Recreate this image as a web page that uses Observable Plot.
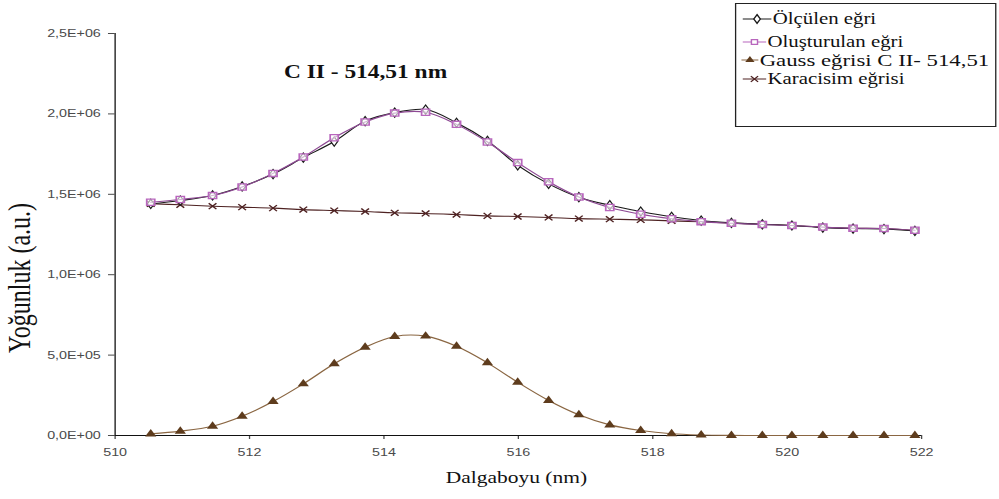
<!DOCTYPE html>
<html>
<head>
<meta charset="utf-8">
<script src="https://cdn.jsdelivr.net/npm/d3@7"></script>
<script src="https://cdn.jsdelivr.net/npm/@observablehq/plot@0.6"></script>
<style>
  html, body { margin: 0; padding: 0; background: #fff; }
  #frame { position: relative; width: 999px; height: 499px; overflow: hidden; background: #fff; }
  /* the whole figure is drawn on a narrower stage and widened horizontally */
  #stage { position: absolute; left: 0; top: 0; width: 768px; height: 499px;
           transform: scaleX(1.3008); transform-origin: 0 0; }
  #stage svg { position: absolute; left: 0; top: 0; }
  .serif { font-family: "Liberation Serif", "Times New Roman", serif; color: #111; position: absolute; white-space: nowrap; }
  #title { left: 281px; top: 62px; font-size: 18px; font-weight: bold; line-height: 20px; transform: translateX(-50%); }
  #ylab { left: 15px; top: 278px; font-size: 24px; line-height: 24px; transform: translate(-50%, -50%) rotate(-90deg); }
  #xlab { left: 397px; top: 468px; font-size: 16.5px; line-height: 20px; transform: translateX(-50%); }
  #legend { position: absolute; left: 565px; top: 3px; width: 201px; height: 124px;
            border: 1px solid #222; box-sizing: border-box; background: #fff; }
  #legend .row { position: absolute; height: 18px; display: flex; align-items: center; }
  #legend .row svg { position: static; flex: none; }
  #legend .row span { font-family: "Liberation Serif", "Times New Roman", serif; color: #111; white-space: nowrap; }
</style>
</head>
<body>
<div id="frame"><div id="stage">
  <div id="title" class="serif">C II - 514,51 nm</div>
  <div id="ylab" class="serif">Yoğunluk (a.u.)</div>
  <div id="xlab" class="serif">Dalgaboyu (nm)</div>
  <div id="legend"></div>
</div></div>
<script>
// Wavelength samples (nm)
const wavelength = [510.53, 510.97, 511.45, 511.89, 512.35, 512.80, 513.26, 513.72, 514.16, 514.62,
                    515.08, 515.54, 515.99, 516.45, 516.90, 517.36, 517.82, 518.28, 518.72, 519.17,
                    519.63, 520.07, 520.53, 520.98, 521.44, 521.90];
// Measured spectrum
const measured = [1440000, 1461000, 1493000, 1549000, 1626000, 1728000, 1828000, 1955000, 2008000, 2027000,
                  1945000, 1832000, 1680000, 1565000, 1482000, 1432000, 1393000, 1360000, 1337000, 1322000,
                  1313000, 1306000, 1293000, 1287000, 1284000, 1272000];
// Reconstructed spectrum (continuum + Gaussian)
const fitted = [1451000, 1468000, 1492000, 1545000, 1630000, 1732000, 1852000, 1950000, 2005000, 2010000,
                1935000, 1825000, 1697000, 1578000, 1483000, 1418000, 1376000, 1348000, 1330000, 1320000,
                1312000, 1306000, 1296000, 1289000, 1287000, 1276000];
// Gaussian profile of the C II 514.51 nm line
const gauss = [10000, 27000, 58000, 120000, 211000, 321000, 446000, 549000, 616000, 618000,
               555000, 452000, 331000, 218000, 129000, 66000, 31000, 10500, 3000, 600,
               100, 0, 0, 0, 0, 0];
// Blackbody continuum
const blackbody = [1441000, 1435000, 1426000, 1420000, 1414000, 1405000, 1399000, 1393000, 1385000, 1381000,
                   1374000, 1366000, 1362000, 1356000, 1349000, 1345000, 1341000, 1335000, 1329000, 1321000,
                   1314000, 1306000, 1295000, 1289000, 1287000, 1275000];

const xTicks = [510, 512, 514, 516, 518, 520, 522];
const yTicks = [0, 500000, 1000000, 1500000, 2000000, 2500000];
const yTickLabels = ["0,0E+00", "5,0E+05", "1,0E+06", "1,5E+06", "2,0E+06", "2,5E+06"];

const seriesNames = ["Ölçülen eğri", "Oluşturulan eğri", "Gauss eğrisi C II- 514,51", "Karacisim eğrisi"];

const rows = wavelength.map((w, i) => ({
  w, measured: measured[i], fitted: fitted[i], gauss: gauss[i], blackbody: blackbody[i]
}));

const C = {
  measured: "#1a1a1a",
  fittedLine: "#8e4a94",
  fittedMark: "#b866bd",
  gaussLine: "#8a6642",
  gaussMark: "#5e3c1d",
  body: "#4e2222"
};

const curve = "catmull-rom";

const chart = Plot.plot({
  width: 768,
  height: 499,
  marginLeft: 88,
  marginRight: 60,
  marginTop: 33,
  marginBottom: 64,
  style: { fontFamily: "'Liberation Sans', Arial, sans-serif", fontSize: "11px", background: "transparent", overflow: "visible" },
  x: { domain: [510, 522] },
  y: { domain: [0, 2500000] },
  marks: [
    Plot.axisX({ ticks: xTicks, tickFormat: d => String(d), tickSize: 4, tickPadding: 9, label: null, color: "#4a4a4a" }),
    Plot.axisY({ ticks: yTicks, tickFormat: d => yTickLabels[yTicks.indexOf(d)], tickSize: 5, tickPadding: 6, label: null, color: "#4a4a4a" }),
    Plot.ruleX([510], { stroke: "#111" }),
    Plot.ruleY([0], { stroke: "#111" }),

    Plot.line(rows, { x: "w", y: "blackbody", stroke: C.body, strokeWidth: 1.1, curve }),
    Plot.dot(rows, { x: "w", y: "blackbody", symbol: "times", stroke: C.body, r: 2.8, strokeWidth: 1.2 }),

    Plot.line(rows, { x: "w", y: "gauss", stroke: C.gaussLine, strokeWidth: 1.1, curve }),
    Plot.dot(rows, { x: "w", y: "gauss", symbol: "triangle", fill: C.gaussMark, r: 3.2 }),

    Plot.line(rows, { x: "w", y: "measured", stroke: C.measured, strokeWidth: 1.1, curve }),
    Plot.dot(rows, { x: "w", y: "measured", symbol: "diamond", fill: "white", stroke: C.measured, r: 2.8, strokeWidth: 1 }),

    Plot.line(rows, { x: "w", y: "fitted", stroke: C.fittedLine, strokeWidth: 1.1, curve }),
    Plot.dot(rows, { x: "w", y: "fitted", symbol: "square", fill: "white", fillOpacity: 0.6, stroke: C.fittedMark, r: 3.5, strokeWidth: 1.3 })
  ]
});
document.getElementById("stage").prepend(chart);

// Legend: a line-and-marker swatch per series
const legendRows = [
  { name: seriesNames[0], line: C.measured, symbol: d3.symbolDiamond, fill: "white", stroke: C.measured, left: 4, top: 6, size: 16, sw: 22 },
  { name: seriesNames[1], line: C.fittedMark, symbol: d3.symbolSquare, fill: "white", stroke: C.fittedMark, left: 4, top: 29, size: 16, sw: 18 },
  { name: seriesNames[2], line: C.gaussLine, symbol: d3.symbolTriangle, fill: C.gaussMark, stroke: "none", left: 3, top: 47, size: 17.5, sw: 13 },
  { name: seriesNames[3], line: C.body, symbol: d3.symbolTimes, fill: "none", stroke: C.body, left: 4, top: 66, size: 16, sw: 18 }
];
const legend = d3.select("#legend");
legendRows.forEach(r => {
  const row = legend.append("div").attr("class", "row").style("top", r.top + "px").style("left", r.left + "px");
  const sw = row.append("svg").attr("width", r.sw + 2).attr("height", 18);
  sw.append("line").attr("x1", 1).attr("x2", r.sw + 1).attr("y1", 9).attr("y2", 9).attr("stroke", r.line).attr("stroke-width", 1.2);
  sw.append("path").attr("transform", `translate(${r.sw / 2 + 1},9)`)
    .attr("d", d3.symbol(r.symbol, 22)())
    .attr("fill", r.fill).attr("stroke", r.stroke).attr("stroke-width", 1.1);
  row.append("span").style("font-size", r.size + "px").text(r.name);
});
</script>
</body>
</html>
